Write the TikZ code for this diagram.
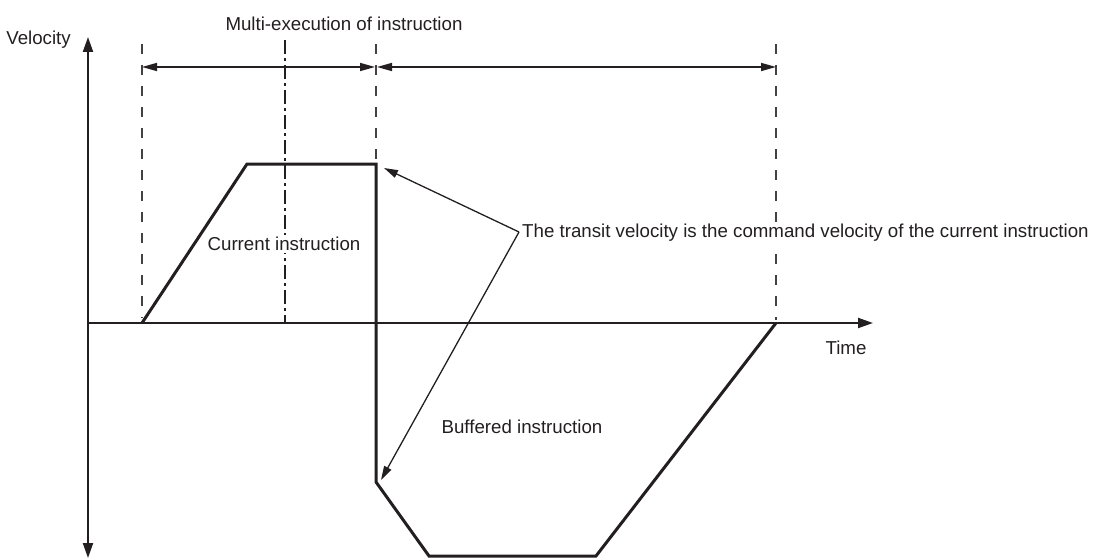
\documentclass[tikz,border=0pt]{standalone}
\usepackage{fontspec}
\setmainfont{Liberation Sans}
\usetikzlibrary{arrows.meta}
\definecolor{ink}{HTML}{231F20}
\tikzset{
  axisline/.style={line width=2pt, draw=ink},
  axtip/.tip={Triangle[length=15pt,width=10pt]},
  profile/.style={line width=3pt, draw=ink, line join=miter, line cap=butt},
  guide/.style={line width=1.3pt, draw=ink!85, dash pattern=on 10pt off 11pt},
  centreline/.style={line width=1.3pt, draw=ink, dash pattern=on 14pt off 4pt on 3pt off 4pt},
  span/.style={line width=1.5pt, draw=ink, {Triangle[length=15pt,width=8pt]}-{Triangle[length=15pt,width=8pt]}},
  note/.style={line width=1.3pt, draw=ink, -{Triangle[length=14pt,width=8pt]}},
  lbl/.style={font=\fontsize{18.7}{22}\selectfont, text=ink, inner sep=2pt},
  cover/.style={lbl, fill=white}
}
\begin{document}
\begin{tikzpicture}[x=1pt,y=-1pt]
\useasboundingbox (0,0) rectangle (1097,559);
% axes
\coordinate (vtop) at (88,37);
\coordinate (vbot) at (88,558);
\coordinate (orig) at (88,323);
\coordinate (htip) at (873,323);
\draw[axisline, axtip-axtip] (vtop) -- (vbot);
\draw[axisline, -axtip] (orig) -- (htip);
% guides
\coordinate (g1t) at (142,44); \coordinate (g1b) at (142,318);
\coordinate (g2t) at (376,44); \coordinate (g2b) at (376,160);
\coordinate (g3t) at (776,44); \coordinate (g3b) at (776,320);
\coordinate (ct) at (285,40); \coordinate (cb) at (285,323);
\draw[guide] (g1t) -- (g1b);
\draw[guide] (g2t) -- (g2b);
\draw[guide] (g3t) -- (g3b);
\draw[centreline] (ct) -- (cb);
% spans
\coordinate (s1) at (142,67); \coordinate (s2) at (375,67);
\coordinate (s3) at (377,67); \coordinate (s4) at (776,67);
\draw[span] (s1) -- (s2);
\draw[span] (s3) -- (s4);
% profile
\coordinate (p0) at (142,323);
\coordinate (p1) at (247,164);
\coordinate (p2) at (376,164);
\coordinate (p3) at (376,482);
\coordinate (p4) at (429,556);
\coordinate (p5) at (596,556);
\coordinate (p6) at (776,323);
\draw[profile] (p0) -- (p1) -- (p2) -- (p3) -- (p4) -- (p5) -- (p6);
% labels
\node[lbl, anchor=east] (vel) at (73,39.5) {Velocity};
\node[lbl] (time) at (846,348) {Time};
\node[lbl] (multi) at (344,23.5) {Multi-execution of instruction};
\node[cover] (cur) at (284,244) {Current instruction};
\node[lbl] (buf) at (522,427) {Buffered instruction};
\node[cover, anchor=west, inner sep=1pt] (trans) at (521,233) {The transit velocity is the command velocity of the current instruction};
% annotation
\coordinate (ann) at (519,232);
\coordinate (a1) at (384,168);
\coordinate (a2) at (381,480);
\draw[note] (ann) -- (a1);
\draw[note] (ann) -- (a2);
\end{tikzpicture}
\end{document}
